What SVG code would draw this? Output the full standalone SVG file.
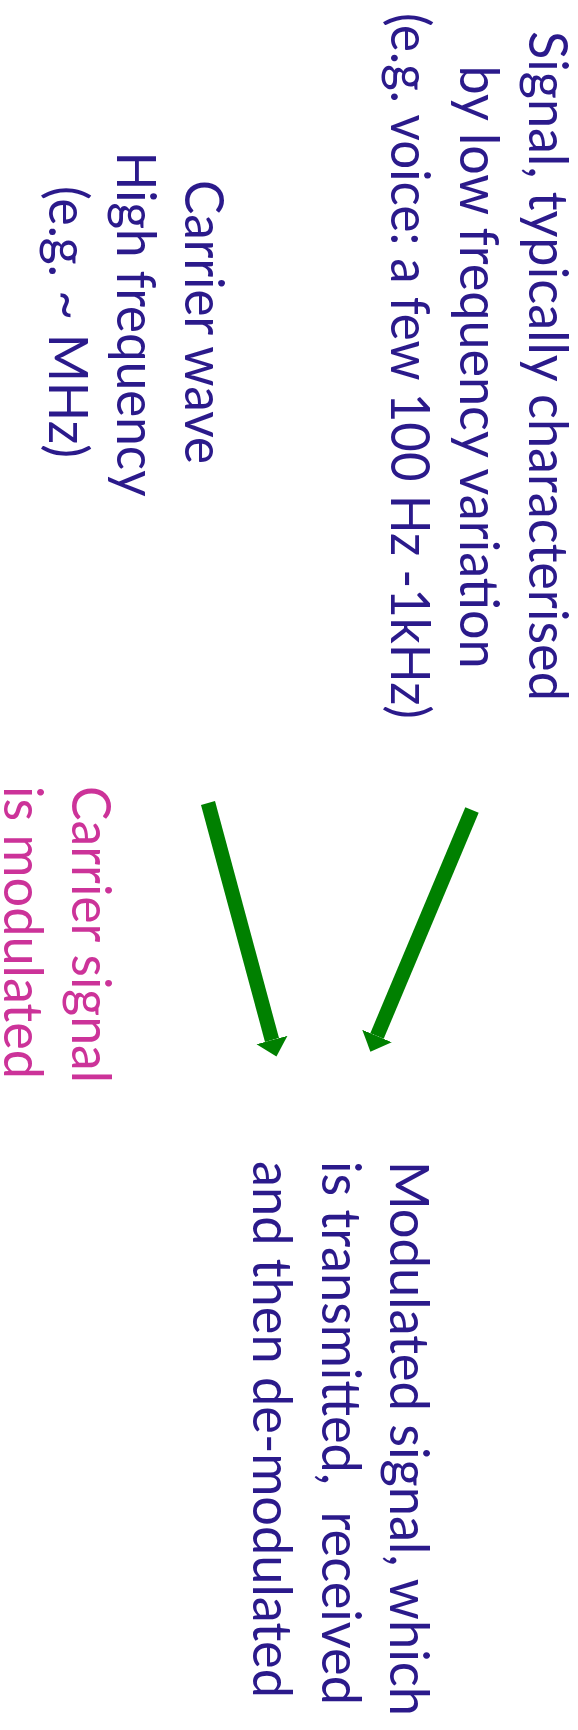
<svg xmlns="http://www.w3.org/2000/svg" width="578" height="1730" viewBox="0 0 578 1730">
<style>
  text { font-family: Lato, "Open Sans", "Liberation Sans", sans-serif; font-size: 54px; white-space: pre; }
  .blue { fill: #2B1A8B; }
  .pink { fill: #CC3399; }
  .mid { text-anchor: middle; }
  .arrow { stroke: #008000; stroke-width: 14.5; fill: none; marker-end: url(#head); }
</style>
<defs>
  <marker id="head" markerUnits="userSpaceOnUse" markerWidth="20" markerHeight="34" refX="0" refY="16" orient="auto">
    <path d="M0,0 L17,16 L0,32 Z" fill="#008000"/>
  </marker>
</defs>
<rect width="578" height="1730" fill="#ffffff"/>
<g id="signal" class="blue">
  <text class="mid" transform="translate(529,366) rotate(90)" textLength="670" lengthAdjust="spacingAndGlyphs">Signal, typically characterised</text>
  <text class="mid" transform="translate(460,367) rotate(90)" textLength="603" lengthAdjust="spacingAndGlyphs">by low frequency variation</text>
  <text class="mid" transform="translate(391,366) rotate(90)" textLength="706" lengthAdjust="spacingAndGlyphs">(e.g. voice: a few 100 Hz -1kHz)</text>
</g>
<g id="carrier" class="blue">
  <text class="mid" transform="translate(185,322) rotate(90)" textLength="284" lengthAdjust="spacingAndGlyphs">Carrier wave</text>
  <text class="mid" transform="translate(117,324) rotate(90)" textLength="345" lengthAdjust="spacingAndGlyphs">High frequency</text>
  <text class="mid" transform="translate(49,322) rotate(90)" textLength="272" lengthAdjust="spacingAndGlyphs">(e.g. ~ MHz)</text>
</g>
<g id="modulation" class="pink">
  <text transform="translate(72,786) rotate(90)" textLength="297" lengthAdjust="spacingAndGlyphs">Carrier signal</text>
  <text transform="translate(4,786) rotate(90)" textLength="293" lengthAdjust="spacingAndGlyphs">is modulated</text>
</g>
<g id="modulated" class="blue">
  <text transform="translate(390,1161) rotate(90)" textLength="555" lengthAdjust="spacingAndGlyphs">Modulated signal, which</text>
  <text transform="translate(322,1161) rotate(90)" textLength="544" lengthAdjust="spacingAndGlyphs">is transmitted,  received</text>
  <text transform="translate(253,1161) rotate(90)" textLength="537" lengthAdjust="spacingAndGlyphs">and then de-modulated</text>
</g>
<g id="connectors">
  <line class="arrow" x1="208" y1="803" x2="272" y2="1040"/>
  <line class="arrow" x1="472" y1="810" x2="377" y2="1036"/>
</g>
</svg>
